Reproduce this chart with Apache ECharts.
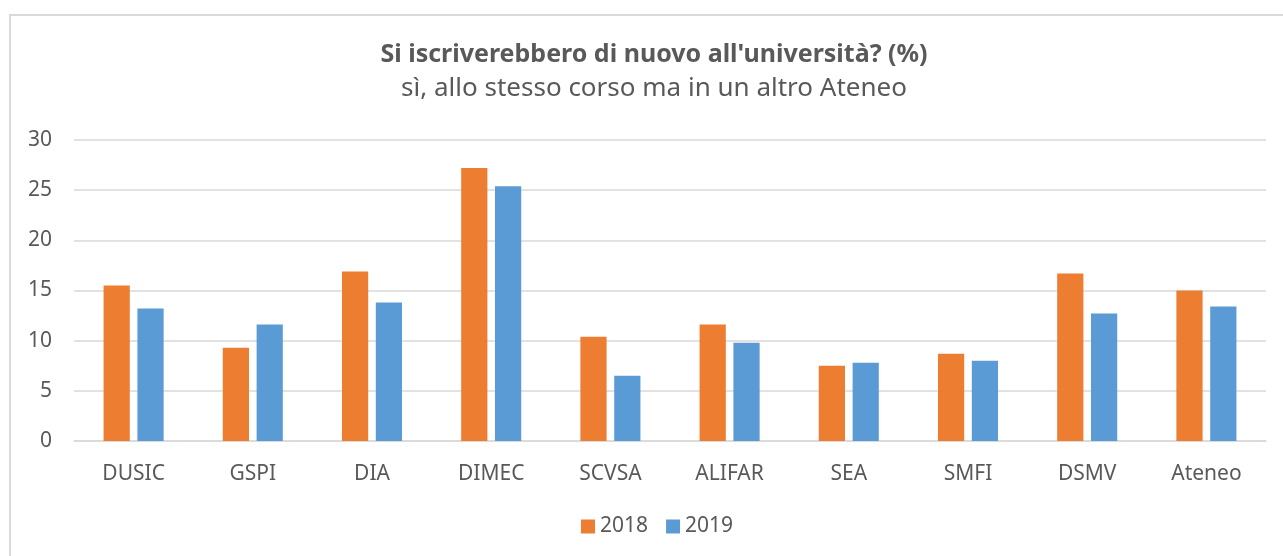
<!DOCTYPE html>
<html>
<head>
<meta charset="utf-8">
<script src="https://cdn.jsdelivr.net/npm/echarts@6/dist/echarts.min.js"></script>
<style>
    html, body { margin: 0; padding: 0; background: #fff; overflow: hidden; }
    #frame { position: absolute; left: 9px; top: 14px; width: 1290px; height: 560px; border: 2px solid #d9d9d9; box-sizing: border-box; }
    #chart { position: absolute; left: 0; top: 0; width: 1283px; height: 556px; }
</style>
</head>
<body>
<div id="frame"></div>
<div id="chart"></div>
<script>
const categories = ['DUSIC', 'GSPI', 'DIA', 'DIMEC', 'SCVSA', 'ALIFAR', 'SEA', 'SMFI', 'DSMV', 'Ateneo'];
const values2018 = [15.5, 9.3, 16.9, 27.2, 10.4, 11.6, 7.5, 8.7, 16.7, 15.0];
const values2019 = [13.2, 11.6, 13.8, 25.4, 6.5, 9.8, 7.8, 8.0, 12.7, 13.4];
const yTicks = [0, 5, 10, 15, 20, 25, 30];

const font = '"Noto Sans", "Open Sans", sans-serif';
const textColor = '#595959';
const gridColor = '#d9d9d9';

const chart = echarts.init(document.getElementById('chart'));

const option = {
    animation: false,
    textStyle: { fontFamily: font },
    title: {
        text: "Si iscriverebbero di nuovo all'università? (%)",
        subtext: 'sì, allo stesso corso ma in un altro Ateneo',
        // centred on the outer frame, not on the window
        left: 649,
        textAlign: 'center',
        top: 37,
        itemGap: 9,
        textStyle: {
            fontFamily: font,
            fontSize: 25,
            fontWeight: 'bold',
            color: textColor
        },
        subtextStyle: {
            fontFamily: font,
            fontSize: 26,
            color: textColor
        }
    },
    legend: {
        data: ['2018', '2019'],
        bottom: 14,
        left: 576,
        icon: 'rect',
        itemWidth: 14,
        itemHeight: 14,
        itemGap: 18,
        textStyle: { fontFamily: font, fontSize: 21, color: textColor }
    },
    grid: {
        left: 74,
        right: 17,
        top: 140,
        bottom: 115,
        containLabel: false
    },
    xAxis: {
        type: 'category',
        data: categories,
        axisLine: { lineStyle: { color: gridColor, width: 1.5 } },
        axisTick: { show: false },
        axisLabel: { fontFamily: font, fontSize: 21, color: textColor, margin: 23 }
    },
    yAxis: {
        type: 'value',
        min: yTicks[0],
        max: yTicks[yTicks.length - 1],
        interval: 5,
        axisLine: { show: false },
        axisTick: { show: false },
        axisLabel: { fontFamily: font, fontSize: 21, color: textColor, margin: 22 },
        splitLine: { lineStyle: { color: gridColor, width: 1.5 } }
    },
    series: [
        {
            name: '2018',
            type: 'bar',
            data: values2018,
            barWidth: '22%',
            barGap: '29%',
            itemStyle: { color: '#ED7D31' }
        },
        {
            name: '2019',
            type: 'bar',
            data: values2019,
            barWidth: '22%',
            itemStyle: { color: '#5B9BD5' }
        }
    ]
};

chart.setOption(option);
</script>
</body>
</html>
